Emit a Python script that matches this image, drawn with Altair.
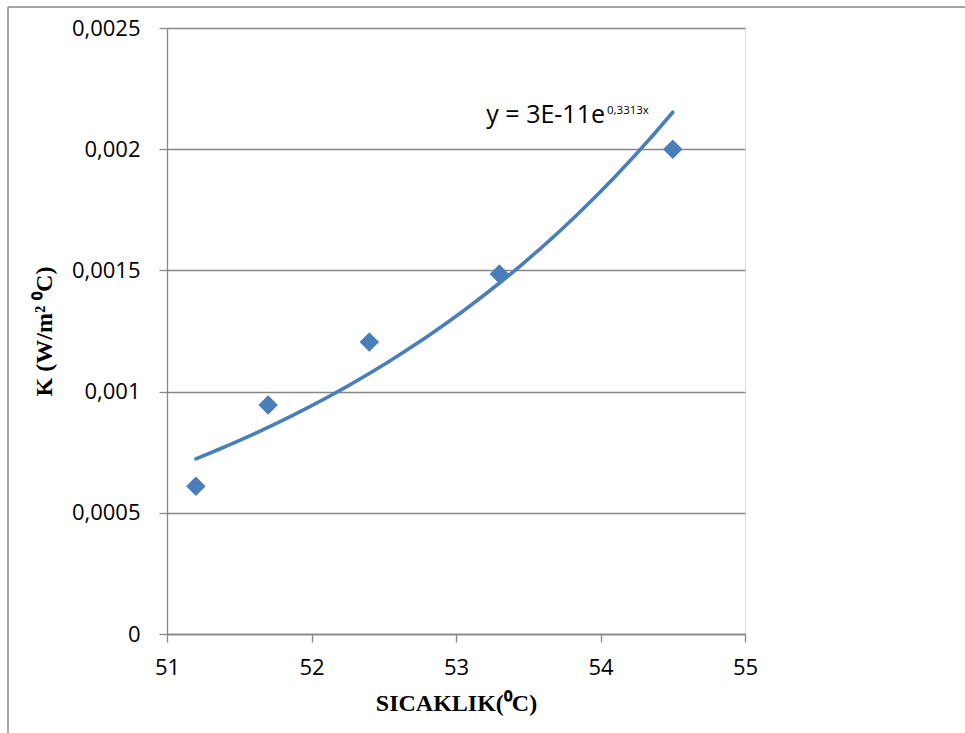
import altair as alt
import pandas as pd

# data
temperature = [51.2, 51.7, 52.4, 53.3, 54.5]
k_values = [0.00061, 0.000945, 0.001205, 0.001485, 0.002]

x_ticks = [51, 52, 53, 54, 55]
y_ticks = [0, 0.0005, 0.001, 0.0015, 0.002, 0.0025]

x_title = "SICAKLIK(⁰C)"
y_title = "K (W/m² ⁰C)"
eq_main = "y = 3E-11e"
eq_sup = "0,3313x"

df = pd.DataFrame({"T": temperature, "K": k_values})

BLUE = "#4a7ebb"
GRID = "#868686"
W, H = 578, 606
LEFT, TOP = 167, 28
TOTAL_W, TOTAL_H = 965, 733

x_scale = alt.Scale(domain=[51, 55], nice=False, zero=False)
y_scale = alt.Scale(domain=[0, 0.0025], nice=False)

x_axis = alt.Axis(
    values=x_ticks,
    format="d",
    title=x_title,
    grid=False,
    labelFlush=False,
    domainColor=GRID,
    domainWidth=1.3,
    tickColor=GRID,
    tickWidth=1.3,
    tickSize=8,
    labelFont="Open Sans",
    labelFontSize=22,
    labelColor="black",
    labelPadding=15,
    titleFont="Liberation Serif",
    titleFontSize=24,
    titleFontWeight="bold",
    titleColor="black",
    titlePadding=13,
)

y_axis = alt.Axis(
    values=y_ticks,
    title=y_title,
    labelExpr="replace(toString(datum.value), '.', ',')",
    grid=True,
    labelFlush=False,
    gridColor=GRID,
    gridWidth=1.3,
    domainColor=GRID,
    domainWidth=1.3,
    tickColor=GRID,
    tickWidth=1.3,
    tickSize=8,
    labelFont="Open Sans",
    labelFontSize=22,
    labelColor="black",
    labelPadding=19,
    titleFont="Liberation Serif",
    titleFontSize=24,
    titleFontWeight="bold",
    titleColor="black",
    titlePadding=15,
)

base = alt.Chart(df)

points = base.mark_point(
    shape="diamond", filled=True, size=380, color=BLUE, opacity=1
).encode(
    x=alt.X("T:Q", scale=x_scale, axis=x_axis),
    y=alt.Y("K:Q", scale=y_scale, axis=y_axis),
)

# exponential trend line, fitted like a spreadsheet does: least squares on log(K)
trend = (
    base.transform_calculate(logK="log(datum.K)")
    .transform_regression("T", "logK", method="poly", order=1)
    .transform_calculate(Kfit="exp(datum.logK)")
    .mark_line(color=BLUE, strokeWidth=3.6, strokeCap="round")
    .encode(
        x=alt.X("T:Q", scale=x_scale, axis=x_axis),
        y=alt.Y("Kfit:Q", scale=y_scale, axis=y_axis),
    )
)

ann_df = pd.DataFrame({"a": [0]})
ann_main = alt.Chart(ann_df).mark_text(
    text=eq_main, font="Open Sans", fontSize=25, align="right", baseline="alphabetic", color="black"
).encode(x=alt.value(605 - LEFT), y=alt.value(123 - TOP))
ann_sup = alt.Chart(ann_df).mark_text(
    text=eq_sup, font="Open Sans", fontSize=11.5, align="left", baseline="alphabetic", color="black"
).encode(x=alt.value(607 - LEFT), y=alt.value(114 - TOP))

frame_left = alt.Chart(ann_df).mark_rule(color=GRID, strokeWidth=1.5).encode(
    x=alt.value(8 - LEFT), y=alt.value(7 - TOP), y2=alt.value(TOTAL_H - TOP)
)
frame_top = alt.Chart(ann_df).mark_rule(color=GRID, strokeWidth=1.5).encode(
    x=alt.value(8 - LEFT), x2=alt.value(TOTAL_W - LEFT), y=alt.value(7 - TOP)
)

chart = (
    alt.layer(frame_left, frame_top, trend, points, ann_main, ann_sup)
    .properties(
        width=W,
        height=H,
        autosize=alt.AutoSizeParams(type="none"),
        padding={"left": LEFT, "top": TOP, "right": TOTAL_W - LEFT - W, "bottom": TOTAL_H - TOP - H},
    )
    .configure_view(stroke=None)
    .configure(background="white")
)

chart.save("out.html", embed_options={"renderer": "svg", "actions": False})
